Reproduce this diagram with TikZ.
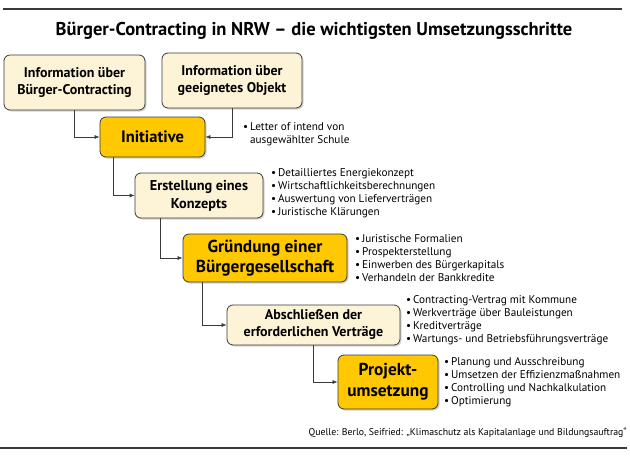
\documentclass[tikz,border=0pt]{standalone}
\usepackage{fontspec}
\setmainfont{PT Sans}
\usetikzlibrary{arrows.meta,shadows}
\definecolor{cream}{HTML}{FDF3D6}
\definecolor{gold}{HTML}{FFC800}
\definecolor{rim}{HTML}{3A3A3A}

\begin{document}
\begin{tikzpicture}[x=1pt,y=1pt,
    stepbox/.style={draw=rim, line width=0.8pt, rounded corners=6pt,
        align=center, inner sep=2pt,
        drop shadow={shadow xshift=1.5pt,shadow yshift=-1.5pt,opacity=0.35}},
    infobox/.style={stepbox, fill=cream},
    keybox/.style={stepbox, fill=gold},
    bullets/.style={anchor=west, align=left, inner sep=0pt,
        font=\fontsize{11.2}{13}\selectfont},
    link/.style={draw=rim, line width=0.6pt, -{Latex[length=5pt,width=4pt]}}]
    \useasboundingbox (0,0) rectangle (630,-463);

    % rules and title
    \draw[rim, line width=1.4pt] (3,-9) -- (622,-9);
    \draw[rim, line width=1.4pt] (0,-448) -- (627,-448);
    \node[font=\fontsize{18.5}{20}\selectfont\bfseries] (title) at (314,-31)
        {Bürger-Contracting in NRW – die wichtigsten Umsetzungsschritte};

    % steps
    \node[infobox, minimum width=141pt, minimum height=55pt,
        font=\fontsize{14}{17}\selectfont\bfseries] (infoA) at (74.5,-82.5)
        {Information über\\Bürger-Contracting};
    \node[infobox, minimum width=140pt, minimum height=55pt,
        font=\fontsize{14}{17}\selectfont\bfseries] (infoB) at (232,-80.5)
        {Information über\\geeignetes Objekt};
    \node[keybox, minimum width=105pt, minimum height=40pt,
        font=\fontsize{16.5}{19}\selectfont\bfseries] (init) at (152.5,-137)
        {Initiative};
    \node[infobox, minimum width=128pt, minimum height=45pt,
        font=\fontsize{14.3}{18}\selectfont\bfseries] (konzept) at (199,-195.5)
        {Erstellung eines\\Konzepts};
    \node[keybox, minimum width=164pt, minimum height=48pt,
        font=\fontsize{17.3}{20}\selectfont\bfseries] (gruendung) at (265,-258)
        {Gründung einer\\Bürgergesellschaft};
    \node[infobox, minimum width=173pt, minimum height=40pt,
        font=\fontsize{14}{17}\selectfont\bfseries] (vertraege) at (313.5,-325)
        {Abschließen der\\erforderlichen Verträge};
    \node[keybox, minimum width=100pt, minimum height=54pt,
        font=\fontsize{17.3}{21}\selectfont\bfseries] (projekt) at (388,-382)
        {Projekt-\\umsetzung};

    % connectors
    \draw[link] (infoA.south) |- (init.west);
    \draw[link] (infoB.south) |- (init.east);
    \draw[link] ([xshift=14pt]init.south west) |- (konzept.west);
    \draw[link] ([xshift=26pt]konzept.south west) |- (gruendung.west);
    \draw[link] ([xshift=20pt]gruendung.south west) |- (vertraege.west);
    \draw[link] (vertraege.south) |- (projekt.west);

    % notes
    \node[bullets] (initnote) at (243,-134.5)
        {\begin{tabular}{@{}l@{\,}l@{}}\textbullet & Letter of intend von\\
        & ausgewählter Schule\end{tabular}};
    \node[bullets] (konzeptnote) at (271,-193)
        {\textbullet\,Detailliertes Energiekonzept\\
        \textbullet\,Wirtschaftlichkeitsberechnungen\\
        \textbullet\,Auswertung von Lieferverträgen\\
        \textbullet\,Juristische Klärungen};
    \node[bullets] (gruendungnote) at (355,-258.5)
        {\textbullet\,Juristische Formalien\\
        \textbullet\,Prospekterstellung\\
        \textbullet\,Einwerben des Bürgerkapitals\\
        \textbullet\,Verhandeln der Bankkredite};
    \node[bullets] (vertraegenote) at (406,-320.5)
        {\textbullet\,Contracting-Vertrag mit Kommune\\
        \textbullet\,Werkverträge über Bauleistungen\\
        \textbullet\,Kreditverträge\\
        \textbullet\,Wartungs- und Betriebsführungsverträge};
    \node[bullets] (projektnote) at (444,-382.5)
        {\textbullet\,Planung und Ausschreibung\\
        \textbullet\,Umsetzen der Effizienzmaßnahmen\\
        \textbullet\,Controlling und Nachkalkulation\\
        \textbullet\,Optimierung};

    % source
    \node[anchor=east, inner sep=0pt, font=\fontsize{9.8}{11}\selectfont] (quelle) at (627,-433)
        {Quelle: Berlo, Seifried: „Klimaschutz als Kapitalanlage und Bildungsauftrag“};
\end{tikzpicture}
\end{document}
